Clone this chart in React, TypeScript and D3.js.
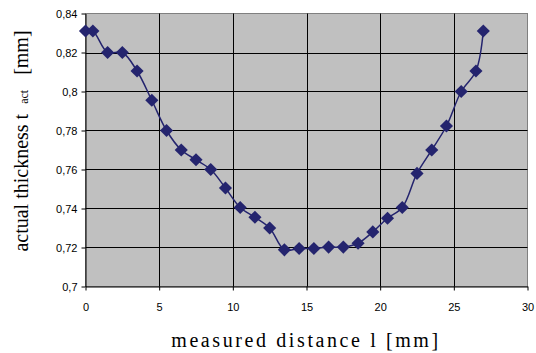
import React, { useEffect, useRef } from 'react';
import * as d3 from 'd3';

// measured distance l [mm]
const distance = [0, 0.5, 1.5, 2.5, 3.5, 4.5, 5.5, 6.5, 7.5, 8.5, 9.5, 10.5, 11.5, 12.5, 13.5, 14.5, 15.5, 16.5, 17.5, 18.5, 19.5, 20.5, 21.5, 22.5, 23.5, 24.5, 25.5, 26.5, 27];
// actual thickness t_act [mm]
const thickness = [0.831, 0.831, 0.82, 0.82, 0.8105, 0.7955, 0.78, 0.77, 0.765, 0.76, 0.7505, 0.7405, 0.7355, 0.73, 0.7188, 0.7195, 0.7195, 0.7202, 0.7202, 0.7222, 0.728, 0.735, 0.7405, 0.758, 0.77, 0.7823, 0.8, 0.8105, 0.831];
const xTicks = [0, 5, 10, 15, 20, 25, 30];
const yTicks = [0.7, 0.72, 0.74, 0.76, 0.78, 0.8, 0.82, 0.84];

export default function App() {
  const ref = useRef<SVGSVGElement>(null);

  useEffect(() => {
    const width = 536;
    const height = 353;
    const left = 85.5, right = 527.5, top = 13.5, bottom = 286.5;

    const svg = d3.select(ref.current);
    svg.selectAll('*').remove();

    const x = d3.scaleLinear().domain([0, 30]).range([left, right]);
    const y = d3.scaleLinear().domain([0.7, 0.84]).range([bottom, top]);

    svg.append('rect')
      .attr('x', left).attr('y', top)
      .attr('width', right - left).attr('height', bottom - top)
      .attr('fill', '#c0c0c0')
      .attr('stroke', '#808080');

    // grid
    svg.append('g').selectAll('line')
      .data(yTicks.slice(1, -1))
      .enter().append('line')
      .attr('x1', left).attr('x2', right)
      .attr('y1', d => Math.round(y(d)) + 0.5).attr('y2', d => Math.round(y(d)) + 0.5)
      .attr('stroke', '#000');
    svg.append('g').selectAll('line')
      .data(xTicks.slice(1, -1))
      .enter().append('line')
      .attr('y1', top).attr('y2', bottom)
      .attr('x1', d => Math.round(x(d)) + 0.5).attr('x2', d => Math.round(x(d)) + 0.5)
      .attr('stroke', '#000');

    const fmt = (d: number) => String(d).replace('.', ',');

    const xAxis = svg.append('g')
      .attr('transform', `translate(0,${bottom})`)
      .call(d3.axisBottom(x).tickValues(xTicks).tickSize(4).tickSizeOuter(0).tickFormat(d => fmt(+d)));
    const yAxis = svg.append('g')
      .attr('transform', `translate(${left},0)`)
      .call(d3.axisLeft(y).tickValues(yTicks).tickSize(4).tickSizeOuter(0).tickFormat(d => fmt(+d)));

    [xAxis, yAxis].forEach(a => {
      a.select('.domain').attr('stroke', '#000');
      a.selectAll('.tick line').attr('stroke', '#000');
      a.selectAll('.tick text')
        .attr('fill', '#000')
        .style('font-family', 'Liberation Sans, Arial, sans-serif')
        .style('font-size', '11px');
    });
    xAxis.selectAll('.tick text').attr('dy', '1.1em').attr('y', 12);
    yAxis.selectAll('.tick text').attr('x', -8);

    const points = distance.map((d, i) => [d, thickness[i]] as [number, number]);
    const line = d3.line<[number, number]>()
      .x(d => x(d[0])).y(d => y(d[1]))
      .curve(d3.curveCatmullRom.alpha(0.5));

    svg.append('path')
      .datum(points)
      .attr('d', line)
      .attr('fill', 'none')
      .attr('stroke', '#24246e')
      .attr('stroke-width', 1.5);

    svg.append('g').selectAll('path')
      .data(points)
      .enter().append('path')
      .attr('d', d3.symbol().type(d3.symbolDiamond2).size(110))
      .attr('transform', d => `translate(${x(d[0])},${y(d[1])})`)
      .attr('fill', '#24246e');

    svg.append('text')
      .attr('x', 306).attr('y', 347)
      .attr('text-anchor', 'middle')
      .style('font-family', 'Liberation Serif, Times New Roman, serif')
      .style('font-size', '20px')
      .style('letter-spacing', '2.6px')
      .attr('fill', '#000')
      .text('measured distance l [mm]');

    const yt = svg.append('text')
      .attr('transform', `translate(28,141) rotate(-90)`)
      .attr('text-anchor', 'middle')
      .style('font-family', 'Liberation Serif, Times New Roman, serif')
      .style('font-size', '20px')
      .style('white-space', 'pre')
      .attr('fill', '#000');
    yt.append('tspan').text('actual thickness t  ');
    yt.append('tspan').text('act').style('font-size', '12px');
    yt.append('tspan').text('   [mm]');

    svg.attr('width', width).attr('height', height);
  }, []);

  return (
    <svg ref={ref} width={536} height={353}
      style={{ position: 'absolute', left: 0, top: 0, background: '#fff' }} />
  );
}
